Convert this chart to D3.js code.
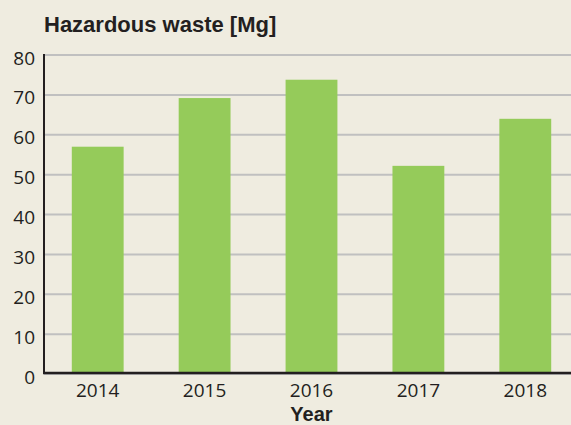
<!DOCTYPE html>
<html>
<head>
<meta charset="utf-8">
<script src="https://cdn.jsdelivr.net/npm/d3@7"></script>
<style>
  html, body { margin: 0; padding: 0; background: #efece0; }
  svg { display: block; }
  text { font-family: "Liberation Sans", Arial, sans-serif; fill: #231f20; }
  .tick-label { font-family: "Open Sans", "Liberation Sans", sans-serif; }
</style>
</head>
<body>
<div id="chart"></div>
<script>
// Hazardous waste per year, bar chart

const years = ["2014", "2015", "2016", "2017", "2018"];
const wasteMg = [57, 69.2, 73.8, 52.2, 64];
const yTicks = [0, 10, 20, 30, 40, 50, 60, 70, 80];

const width = 571;
const height = 425;
const margin = { top: 55, right: -8, bottom: 51, left: 44 };

const svg = d3.select("#chart")
  .append("svg")
  .attr("width", width)
  .attr("height", height);

svg.append("rect")
  .attr("width", width)
  .attr("height", height)
  .attr("fill", "#efece0");

const x = d3.scaleBand()
  .domain(years)
  .range([margin.left, width - margin.right])
  .paddingInner(0.515)
  .paddingOuter(0.26);

const y = d3.scaleLinear()
  .domain([0, 80])
  .range([height - margin.bottom, margin.top]);

// gridlines
svg.append("g")
  .selectAll("line")
  .data(yTicks)
  .join("line")
  .attr("x1", margin.left)
  .attr("x2", width)
  .attr("y1", (d) => y(d))
  .attr("y2", (d) => y(d))
  .attr("stroke", "#c0c0c0")
  .attr("stroke-width", 2);

// bars
svg.append("g")
  .selectAll("rect")
  .data(years)
  .join("rect")
  .attr("x", (d) => x(d))
  .attr("width", x.bandwidth())
  .attr("y", (d, i) => y(wasteMg[i]))
  .attr("height", (d, i) => y(0) - y(wasteMg[i]))
  .attr("fill", "#95cb5a");

// axis lines
svg.append("line")
  .attr("x1", margin.left)
  .attr("x2", margin.left)
  .attr("y1", y(80) - 1)
  .attr("y2", y(0))
  .attr("stroke", "#231f20")
  .attr("stroke-width", 2);

svg.append("line")
  .attr("x1", margin.left - 1)
  .attr("x2", width)
  .attr("y1", y(0) - 1)
  .attr("y2", y(0) - 1)
  .attr("stroke", "#231f20")
  .attr("stroke-width", 2.5);

// y tick labels
svg.append("g")
  .selectAll("text")
  .data(yTicks)
  .join("text")
  .attr("class", "tick-label")
  .attr("x", margin.left - 9)
  .attr("y", (d) => y(d) + 9.5)
  .attr("text-anchor", "end")
  .attr("font-size", 19)
  .text((d) => d);

// x tick labels
svg.append("g")
  .selectAll("text")
  .data(years)
  .join("text")
  .attr("class", "tick-label")
  .attr("x", (d) => x(d) + x.bandwidth() / 2)
  .attr("y", y(0) + 23)
  .attr("text-anchor", "middle")
  .attr("font-size", 19)
  .text((d) => d);

// axis title
svg.append("text")
  .attr("x", (margin.left + width - margin.right) / 2)
  .attr("y", 421)
  .attr("text-anchor", "middle")
  .attr("font-size", 20)
  .attr("font-weight", "bold")
  .text("Year");

// chart title
svg.append("text")
  .attr("x", margin.left)
  .attr("y", 32)
  .attr("font-size", 22)
  .attr("font-weight", "bold")
  .text("Hazardous waste [Mg]");
</script>
</body>
</html>
